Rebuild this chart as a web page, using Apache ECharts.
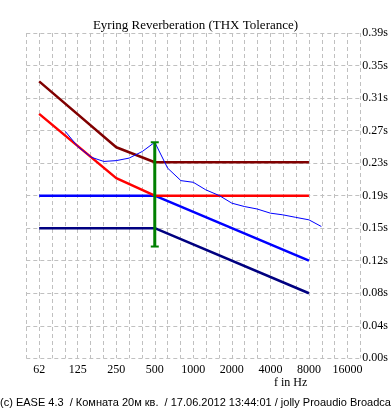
<!DOCTYPE html>
<html><head><meta charset="utf-8">
<script src="https://cdn.jsdelivr.net/npm/echarts@6/dist/echarts.min.js"></script>
<style>html,body{margin:0;padding:0;background:#fff}#c{width:391px;height:411px}</style>
</head><body><div id="c"></div>
<script>
const octaveLabels = ['62','125','250','500','1000','2000','4000','8000','16000'];
const yLabels = ['0.00s','0.04s','0.08s','0.12s','0.15s','0.19s','0.23s','0.27s','0.31s','0.35s','0.39s'];
const measuredFreq = [100,125,160,200,250,315,400,500,630,800,1000,1250,1600,2000,2500,3150,4000,5000,6300,8000,10000];
const measuredRT = [0.272,0.254,0.241,0.236,0.237,0.240,0.248,0.259,0.228,0.213,0.211,0.202,0.195,0.186,0.182,0.179,0.174,0.172,0.169,0.166,0.158];
const upperFreq = [62.5,250,500,8000];
const upperMax = [0.332,0.253,0.235,0.235];
const upperNom = [0.293,0.216,0.195,0.195];
const lowerFreq = [62.5,500,8000];
const lowerNom = [0.195,0.195,0.117];
const lowerMin = [0.156,0.156,0.078];
const barFreq = [500,500];
const barRT = [0.259,0.134];

const pairs = (xs, ys) => xs.map((x,i)=>[x, ys[i]]);
const chart = echarts.init(document.getElementById('c'), null, {renderer:'canvas'});
const grid = '#c0c0c0';
const lineS = (name, xs, ys, color, w, z) => ({
  name, type:'line', data:pairs(xs,ys), showSymbol:false, symbol:'none', z,
  lineStyle:{color, width:w}, animation:false
});
chart.setOption({
  animation:false,
  backgroundColor:'#fff',
  title:{text:'Eyring Reverberation (THX Tolerance)', left:'center', top:14,
    textStyle:{fontFamily:'Liberation Serif', fontSize:13, fontWeight:'normal', color:'#000'}},
  grid:{left:26.3, right:26.7, top:33, bottom:52.7},
  xAxis:{type:'log', logBase:2, min:62.5*Math.pow(2,-1/3), max:16000*Math.pow(2,1/3), interval:1/3,
    axisLine:{show:false}, axisTick:{show:false},
    splitLine:{show:true, lineStyle:{color:grid, type:[4,3], width:1}},
    axisLabel:{margin:6, fontFamily:'Liberation Serif', fontSize:12, color:'#000', showMinLabel:true, showMaxLabel:true,
      formatter:(v)=>{const o=Math.log2(v/62.5); const k=Math.round(o); return Math.abs(o-k)<0.05 && k>=0 && k<octaveLabels.length ? octaveLabels[k] : '';}}
  },
  yAxis:{type:'value', position:'right', min:0, max:0.39, interval:0.039,
    axisLine:{show:false}, axisTick:{show:false},
    splitLine:{show:true, lineStyle:{color:grid, type:[4,3], width:1}},
    axisLabel:{margin:2, fontFamily:'Liberation Serif', fontSize:12, color:'#000',
      formatter:(v)=>yLabels[Math.round(v/0.039)] || ''}
  },
  graphic:[
    {type:'text', left:274, top:377, style:{text:'f in Hz', font:'12px "Liberation Serif"', fill:'#000'}},
    {type:'text', left:0, top:397, style:{text:'(c) EASE 4.3  / Комната 20м кв.  / 17.06.2012 13:44:01 / jolly Proaudio Broadcast', font:'11px "Liberation Sans"', fill:'#000'}}
  ],
  series:[
    lineS('min', lowerFreq, lowerMin, '#000080', 2.5, 2),
    lineS('nomLow', lowerFreq, lowerNom, '#0000ff', 2.5, 3),
    lineS('nomUp', upperFreq, upperNom, '#ff0000', 2.5, 4),
    lineS('max', upperFreq, upperMax, '#800000', 2.5, 5),
    lineS('measured', measuredFreq, measuredRT, '#0000ff', 1, 6),
    {name:'range', type:'line', data:pairs(barFreq, barRT), symbol:'rect', symbolSize:[8,2], showSymbol:true, z:7,
      itemStyle:{color:'#008000'}, lineStyle:{color:'#008000', width:3}, animation:false}
  ]
});
</script></body></html>
